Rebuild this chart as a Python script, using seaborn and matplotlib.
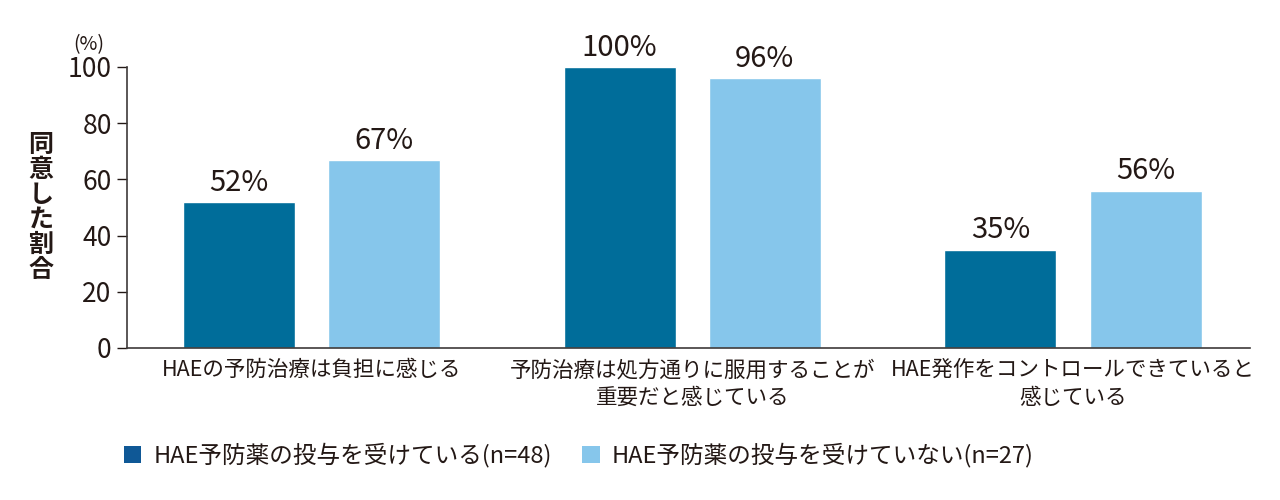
import pandas as pd
import matplotlib.pyplot as plt
import seaborn as sns
from matplotlib.patches import Patch

# Data
categories = [
    'HAEの予防治療は負担に感じる',
    '予防治療は処方通りに服用することが\n重要だと感じている',
    'HAE発作をコントロールできていると\n感じている',
]
groups = ['HAE予防薬の投与を受けている(n=48)', 'HAE予防薬の投与を受けていない(n=27)']
treated = [52, 100, 35]
untreated = [67, 96, 56]

dark = '#006D9A'
light = '#86C6EB'
text_col = '#231815'

df = pd.DataFrame({
    'category': categories * 2,
    'group': [groups[0]] * 3 + [groups[1]] * 3,
    'value': treated + untreated,
})

sns.set_style('white')
plt.rcParams['font.family'] = ['Noto Sans CJK JP', 'DejaVu Sans']

fig = plt.figure(figsize=(12.8, 5), dpi=100)
ax = fig.add_axes([0.0992, 0.304, 0.8774, 0.562])

sns.barplot(data=df, x='category', y='value', hue='group', order=categories,
            hue_order=groups, palette=[dark, light], width=0.762, gap=0.228,
            saturation=1, legend=False, ax=ax)

for container in ax.containers:
    ax.bar_label(container, labels=[f'{v:.0f}%' for v in container.datavalues],
                 padding=3, fontsize=21, color=text_col, clip_on=False)

ax.set_ylim(0, 100)
ax.set_xlim(-0.484, 2.465)
ax.set_yticks([0, 20, 40, 60, 80, 100])
ax.tick_params(axis='y', direction='out', length=7, width=1, colors=text_col,
               labelsize=19, left=True, pad=4)
ax.tick_params(axis='x', length=0, labelsize=15.5, labelcolor=text_col, pad=8)
for lbl in ax.get_xticklabels():
    lbl.set_linespacing(1.35)
ax.set_xlabel('')
ax.set_ylabel('')
sns.despine(ax=ax, top=True, right=True)
for s in ['left', 'bottom']:
    ax.spines[s].set_color('#3e3a39')
    ax.spines[s].set_linewidth(1.2)

# vertical axis title (stacked characters) and unit
fig.text(0.032, 0.585, '\n'.join('同意した割合'), ha='center', va='center',
         fontsize=18, fontweight='bold', color=text_col, linespacing=1.05)
fig.text(0.069, 0.91, '(%)', ha='center', va='center', fontsize=14, color=text_col)

handles = [Patch(facecolor='#0F5896', edgecolor='none'), Patch(facecolor=light, edgecolor='none')]
fig.legend(handles, groups, loc='center left', bbox_to_anchor=(0.080, 0.09), ncol=2,
           frameon=False, fontsize=17, handlelength=0.75, handleheight=0.75,
           handletextpad=0.5, columnspacing=1.3, labelcolor=text_col)

fig.savefig('out.png', dpi=100)
